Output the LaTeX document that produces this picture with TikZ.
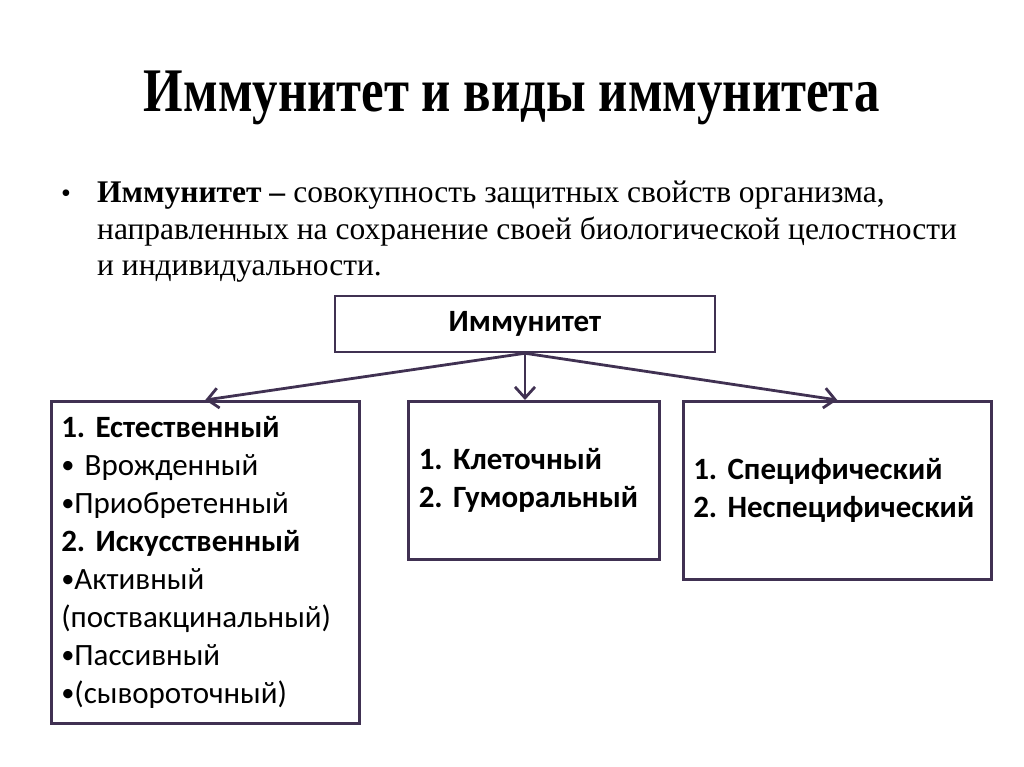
\documentclass[tikz,border=0pt]{standalone}
\usepackage{fontspec}
\setmainfont{Liberation Serif}
\newfontfamily\boxfont{Carlito}
\newfontfamily\titlefont[FakeStretch=0.82]{Liberation Serif}
\usetikzlibrary{arrows.meta}
\definecolor{frameline}{RGB}{64,49,82}
\frenchspacing
\newcommand\listdot{\raisebox{1.5pt}{\scalebox{0.85}{•}}}
\tikzset{
  top box/.style={
    draw=frameline, line width=2.5pt, minimum width=380pt, minimum height=56pt,
    font=\boxfont\bfseries\fontsize{31}{36}\selectfont
  },
  sub box/.style={
    draw=frameline, line width=2.5pt, anchor=north west, align=left,
    inner xsep=10pt, inner ysep=0pt,
    font=\boxfont\fontsize{31}{38}\selectfont
  },
  link/.style={
    draw=frameline, line width=2.8pt, -{Straight Barb[length=11pt,width=20pt,line width=2.8pt]}
  }
}

\begin{document}
\begin{tikzpicture}[x=1pt,y=-1pt]
\useasboundingbox (0,0) rectangle (1024,767);
% ------------------------------------------------
% title and definition
% ------------------------------------------------
\node[font=\titlefont\bfseries\fontsize{62}{70}\selectfont] (title) at (512,98) {Иммунитет и виды иммунитета};
\node[font=\fontsize{28}{36}\selectfont] (dot) at (66,196) {•};
\node[anchor=north west, align=left, inner sep=0pt,
      font=\fontsize{31.5}{36.5}\selectfont] (def) at (97,181)
  {\textbf{Иммунитет –} совокупность защитных свойств организма,\\
   направленных на сохранение своей биологической целостности\\
   и индивидуальности.};

% ------------------------------------------------
% boxes
% ------------------------------------------------
\node[top box] (imm) at (525,324) {Иммунитет};

\node[sub box, minimum width=308pt, minimum height=322pt, text width=288pt] (nat) at (50,400)
  {\textbf{1. Естественный}\\
   \listdot{} Врожденный\\
   \listdot Приобретенный\\
   \textbf{2. Искусственный}\\
   \listdot Активный\\
   (поствакцинальный)\\
   \listdot Пассивный\\
   \listdot(сывороточный)};
\node[sub box, minimum width=251pt, minimum height=158pt, text width=230pt] (cell) at (407,400)
  {\textbf{1. Клеточный}\\
   \textbf{2. Гуморальный}};
\node[sub box, minimum width=308pt, minimum height=178pt, text width=288pt] (spec) at (682,400)
  {\textbf{1. Специфический}\\
   \textbf{2. Неспецифический}};

% arrows
\draw[link] (imm.south) -- (nat.north);
\draw[link] (imm.south) -- (cell.north -| imm.south);
\draw[link] (imm.south) -- (spec.north);
\end{tikzpicture}
\end{document}
